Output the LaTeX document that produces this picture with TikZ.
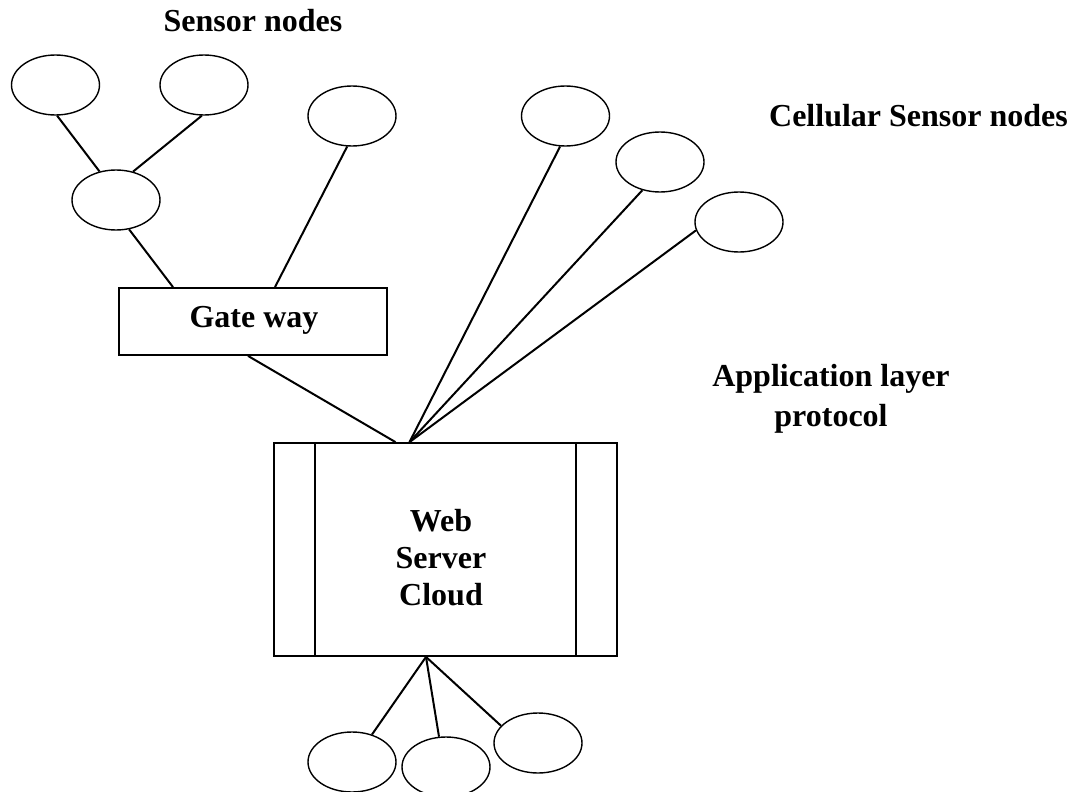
\documentclass[tikz,border=0pt]{standalone}
\usepackage{fontspec}
\setmainfont{Liberation Serif}
\usetikzlibrary{shapes.geometric}
\begin{document}
\begin{tikzpicture}[x=1pt,y=-1pt,
  sensor/.style={draw, ellipse, line width=1.4pt, minimum width=88pt, minimum height=60pt, inner sep=0pt},
  box/.style={draw, rectangle, line width=1.8pt, inner sep=0pt},
  link/.style={line width=2pt},
  label/.style={font=\fontsize{32}{37}\selectfont\bfseries, inner sep=0pt, align=center}]
\useasboundingbox (0,0) rectangle (1076,792);
\clip (0,0) rectangle (1076,792);

% sensor field on the left
\node[sensor] (e1) at (55.5,85) {};
\node[sensor] (e2) at (204,85) {};
\node[sensor] (e3) at (352,116) {};
\node[sensor] (e4) at (116,200) {};

% gateway and server
\node[box, minimum width=268pt, minimum height=67pt] (gw) at (253,321.5) {};
\node[label, anchor=base] (gwtext) at (254,327) {Gate way};
\node[box, minimum width=343pt, minimum height=213pt] (srv) at (445.5,549.5) {};
\draw[line width=1.8pt] ([xshift=42pt]srv.north west) -- ([xshift=42pt]srv.south west);
\draw[line width=1.8pt] ([xshift=-42pt]srv.north east) -- ([xshift=-42pt]srv.south east);
\node[label] (srvtext) at (441,558) {Web\\Server\\Cloud};

% cellular sensor nodes
\node[sensor] (c1) at (565.5,116) {};
\node[sensor] (c2) at (660,162) {};
\node[sensor] (c3) at (739,222) {};

% client nodes below the server
\node[sensor] (b1) at (352,762) {};
\node[sensor] (b2) at (446,767) {};
\node[sensor] (b3) at (538,743) {};

% attachment points on the boxes
\coordinate (gwa) at ([xshift=-80pt]gw.north);
\coordinate (gwb) at ([xshift=22pt]gw.north);
\coordinate (gwc) at ([xshift=-5pt]gw.south);
\coordinate (srvin) at ([xshift=-50pt]srv.north);
\coordinate (hub) at ([xshift=-36pt]srv.north);
\coordinate (hubdown) at ([xshift=-19.5pt]srv.south);

% links
\draw[link] (e1.-87) -- (e4.120);
\draw[link] (e2.-94) -- (e4.59);
\draw[link] (e4.-66) -- (gwa);
\draw[link] (e3.-99) -- (gwb);
\draw[link] (gwc) -- (srvin);
\draw[link] (c1.-100) -- (hub);
\draw[link] (c2.-122) -- (hub);
\draw[link] (c3.-169) -- (hub);
\draw[link] (hubdown) -- (b1.54);
\draw[link] (hubdown) -- (b2.103);
\draw[link] (hubdown) -- (b3.155);

% captions
\node[label, anchor=base] (t1) at (253,32) {Sensor nodes};
\node[label, anchor=base] (t2) at (918.5,126) {Cellular Sensor nodes};
\node[label, font=\fontsize{32}{40}\selectfont\bfseries] (t3) at (831,399) {Application layer\\protocol};
\end{tikzpicture}
\end{document}
